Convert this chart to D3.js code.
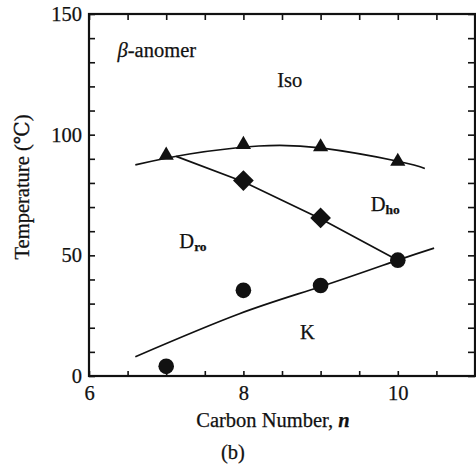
<!DOCTYPE html>
<html><head><meta charset="utf-8">
<script src="https://cdn.jsdelivr.net/npm/d3@7"></script>
<style>body{margin:0;background:#fff}svg{display:block}text{font-family:"Liberation Serif","DejaVu Serif",serif;fill:#111;stroke:#111;stroke-width:0.25px}</style>
</head><body>
<svg id="c" width="476" height="472"></svg>
<script>
const carbonN = [7, 8, 9, 10];
const isoPoints = [[7, 91], [8, 95.5], [9, 94.5], [10, 88.5]];
const dhoPoints = [[8, 81], [9, 65.5]];
const kPoints = [[7, 4], [8, 35.5], [9, 37.5], [10, 48]];
const isoCurve = [[6.6, 87.5], [7.3, 92], [8.2, 95.3], [9, 94.5], [10, 89], [10.35, 86]];
const dhoCurve = [[7.13, 91], [8, 80.5], [9, 65.2], [10, 48]];
const kCurve = [[6.6, 8], [7.94, 25.7], [9, 37], [10, 48], [10.47, 53]];
const xMajor = [6, 8, 10];
const yMajor = [0, 50, 100, 150];
const regionLabels = [
  {t: "Iso", x: 8.6, y: 119.8},
  {t: "K", x: 8.83, y: 15.3}
];

const svg = d3.select("#c");
const x = d3.scaleLinear().domain([6, 11]).range([89, 475]);
const y = d3.scaleLinear().domain([0, 150]).range([376, 14]);
const font = "20.5px";

// axes
const xt = d3.range(6, 11.01, 0.5);
const yt = d3.range(0, 150.1, 10);
const gb = svg.append("g").attr("transform", `translate(0,${y(0)})`)
  .call(d3.axisBottom(x).tickValues(xt).tickSize(-5).tickPadding(9)
    .tickFormat(d => xMajor.includes(d) ? d : ""));
const gt = svg.append("g").attr("transform", `translate(0,${y(150)})`)
  .call(d3.axisTop(x).tickValues(xt).tickSize(-6).tickFormat(""));
const gl = svg.append("g").attr("transform", `translate(${x(6)},0)`)
  .call(d3.axisLeft(y).tickValues(yt).tickSize(-6).tickPadding(7)
    .tickFormat(d => yMajor.includes(d) ? d : ""));
const gr = svg.append("g").attr("transform", `translate(${x(11)},0)`)
  .call(d3.axisRight(y).tickValues(yt).tickSize(-7).tickFormat(""));
[gb, gt, gl, gr].forEach(g => {
  g.select(".domain").remove();
  g.selectAll(".tick line").attr("stroke", "#111").attr("stroke-width", 1.6);
  g.selectAll("text").style("font-size", font).attr("fill", "#111");
});
gb.selectAll("text").attr("dy", "0.71em");

svg.append("rect").attr("x", x(6)).attr("y", y(150))
  .attr("width", x(11) - x(6)).attr("height", y(0) - y(150))
  .attr("fill", "none").attr("stroke", "#111").attr("stroke-width", 2.2);

// curves
const lineN = d3.line().x(d => x(d[0])).y(d => y(d[1])).curve(d3.curveNatural);
const lineL = d3.line().x(d => x(d[0])).y(d => y(d[1]));
svg.append("path").attr("d", lineN(isoCurve)).attr("fill", "none").attr("stroke", "#111").attr("stroke-width", 1.7);
svg.append("path").attr("d", lineL(dhoCurve)).attr("fill", "none").attr("stroke", "#111").attr("stroke-width", 1.7);
svg.append("path").attr("d", lineN(kCurve)).attr("fill", "none").attr("stroke", "#111").attr("stroke-width", 1.7);

// markers
svg.selectAll(".tri").data(isoPoints).join("path")
  .attr("d", d3.symbol(d3.symbolTriangle, 100))
  .attr("transform", d => `translate(${x(d[0])},${y(d[1]) - 1})`).attr("fill", "#111");
svg.selectAll(".dia").data(dhoPoints).join("path")
  .attr("d", d3.symbol(d3.symbolSquare, 215))
  .attr("transform", d => `translate(${x(d[0])},${y(d[1])}) rotate(45)`).attr("fill", "#111");
svg.selectAll(".cir").data(kPoints).join("circle")
  .attr("cx", d => x(d[0])).attr("cy", d => y(d[1])).attr("r", 7.8).attr("fill", "#111");

// region labels
regionLabels.forEach(l => {
  svg.append("text").attr("x", x(l.x)).attr("y", y(l.y)).attr("text-anchor", "middle")
    .style("font-size", font).text(l.t);
});
function dLabel(xv, yv, sub) {
  const t = svg.append("text").attr("x", x(xv)).attr("y", y(yv)).style("font-size", font);
  t.append("tspan").text("D");
  t.append("tspan").attr("dy", 3).style("font-size", "13.5px").style("font-weight", "bold").text(sub);
}
dLabel(9.65, 68.5, "ho");
dLabel(7.17, 53, "ro");

const ba = svg.append("text").attr("x", x(6.37)).attr("y", y(132.3)).style("font-size", font);
ba.append("tspan").style("font-style", "italic").text("β");
ba.append("tspan").text("-anomer");

// axis titles
svg.append("text").attr("transform", `translate(29,${187}) rotate(-90)`).attr("text-anchor", "middle")
  .style("font-size", font).text("Temperature (℃)");
const xl = svg.append("text").attr("x", 273).attr("y", 427).attr("text-anchor", "middle").style("font-size", font);
xl.append("tspan").text("Carbon Number, ");
xl.append("tspan").style("font-style", "italic").style("font-weight", "bold").text("n");
svg.append("text").attr("x", 233).attr("y", 459).attr("text-anchor", "middle").style("font-size", font).text("(b)");
</script>
</body></html>
